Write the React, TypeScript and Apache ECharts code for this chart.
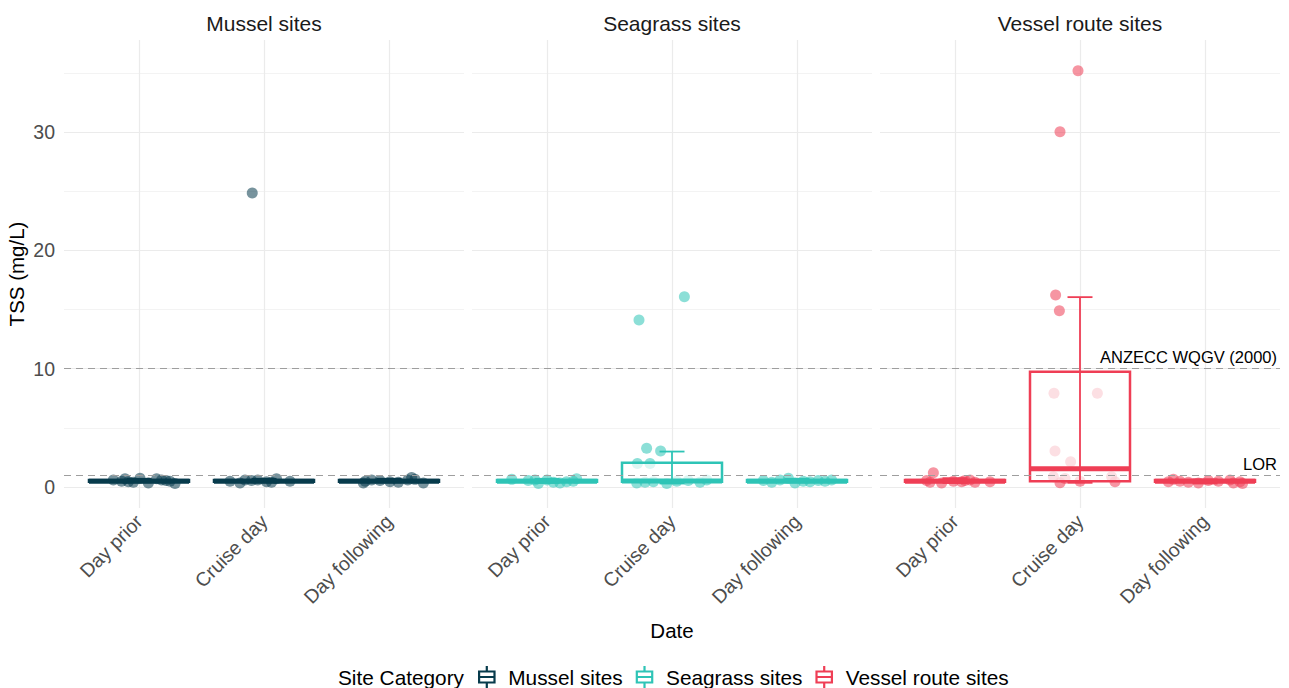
import { useEffect, useRef } from "react";
import * as echarts from "echarts";

const categories = ["Day prior", "Cruise day", "Day following"];
const sites = ["Mussel sites", "Seagrass sites", "Vessel route sites"];
const siteColors = ["#073B4C", "#2EC4B6", "#EF3E55"];
const yTickLabels = [0, 10, 20, 30];
const yMinorTicks = [5, 15, 25, 35];
const yMin = -1.77;
const yMax = 37.78;
const guidelineValues = [10, 1];
const guidelineLabels = ["ANZECC WQGV (2000)", "LOR"];
const legendTitle = "Site Category";
const xTitle = "Date";
const yTitle = "TSS (mg/L)";

// box stats: [category (1-based), lower whisker, Q1, median, Q3, upper whisker]
const musselBoxes = [
  [1, 0.4, 0.45, 0.5, 0.6, 0.7],
  [2, 0.4, 0.45, 0.5, 0.6, 0.7],
  [3, 0.4, 0.45, 0.5, 0.6, 0.7],
];
const seagrassBoxes = [
  [1, 0.35, 0.45, 0.5, 0.6, 0.7],
  [2, 0.3, 0.45, 0.52, 2.05, 3.0],
  [3, 0.4, 0.45, 0.5, 0.6, 0.7],
];
const vesselBoxes = [
  [1, 0.35, 0.45, 0.5, 0.6, 0.75],
  [2, 0.36, 0.5, 1.55, 9.75, 16.05],
  [3, 0.3, 0.45, 0.5, 0.6, 0.65],
];

// jittered samples: [category (1-based), jitter offset, TSS mg/L]
const musselPoints = [
  [1, -0.205, 0.6], [1, -0.139, 0.5], [1, -0.112, 0.7], [1, -0.085, 0.45], [1, -0.045, 0.4], [1, 0.008, 0.75],
  [1, 0.075, 0.35], [1, 0.141, 0.7], [1, 0.181, 0.6], [1, 0.216, 0.55], [1, 0.248, 0.5], [1, 0.288, 0.3],
  [2, -0.272, 0.5], [2, -0.192, 0.35], [2, -0.152, 0.6], [2, -0.1, 0.55], [2, -0.094, 24.85], [2, -0.05, 0.6],
  [2, 0.02, 0.45], [2, 0.06, 0.4], [2, 0.1, 0.7], [2, 0.208, 0.5],
  [3, -0.205, 0.35], [3, -0.19, 0.5], [3, -0.139, 0.6], [3, -0.072, 0.55], [3, 0.008, 0.45], [3, 0.075, 0.4],
  [3, 0.15, 0.6], [3, 0.181, 0.8], [3, 0.208, 0.65], [3, 0.275, 0.35],
];
const seagrassPoints = [
  [1, -0.282, 0.65], [1, -0.15, 0.55], [1, -0.096, 0.6], [1, -0.069, 0.3], [1, 0.0, 0.6], [1, 0.051, 0.4],
  [1, 0.104, 0.35], [1, 0.157, 0.45], [1, 0.21, 0.5], [1, 0.237, 0.7],
  [2, -0.264, 14.11], [2, 0.099, 16.08], [2, -0.203, 3.27], [2, -0.091, 3.04], [2, -0.277, 2.0], [2, -0.176, 2.0],
  [2, -0.282, 0.35], [2, -0.216, 0.4], [2, -0.149, 0.45], [2, -0.042, 0.3], [2, 0.038, 0.5], [2, 0.13, 0.55],
  [2, 0.224, 0.4], [2, 0.278, 0.6],
  [3, -0.269, 0.55], [3, -0.202, 0.4], [3, -0.136, 0.6], [3, -0.069, 0.75], [3, -0.016, 0.35], [3, 0.05, 0.5],
  [3, 0.104, 0.45], [3, 0.17, 0.55], [3, 0.224, 0.5], [3, 0.277, 0.6],
];
const vesselPoints = [
  [1, -0.227, 0.55], [1, -0.2, 0.4], [1, -0.173, 1.21], [1, -0.107, 0.35], [1, -0.013, 0.5], [1, 0.053, 0.45],
  [1, 0.08, 0.55], [1, 0.12, 0.6], [1, 0.16, 0.4], [1, 0.28, 0.45],
  [2, -0.016, 35.18], [2, -0.16, 30.03], [2, -0.195, 16.23], [2, -0.165, 14.9], [2, -0.208, 7.92], [2, 0.139, 7.92],
  [2, -0.2, 3.04], [2, -0.075, 2.14], [2, -0.213, 0.87], [2, -0.16, 0.36], [2, -0.12, 0.73], [2, 0.0, 0.5],
  [2, 0.253, 0.87], [2, 0.28, 0.45],
  [3, -0.293, 0.45], [3, -0.253, 0.65], [3, -0.2, 0.5], [3, -0.133, 0.4], [3, -0.053, 0.35], [3, 0.027, 0.55],
  [3, 0.107, 0.5], [3, 0.2, 0.6], [3, 0.227, 0.35], [3, 0.28, 0.45], [3, 0.3, 0.3],
];

const boxSets = [musselBoxes, seagrassBoxes, vesselBoxes];
const pointSets = [musselPoints, seagrassPoints, vesselPoints];

const FONT = "'Liberation Sans', Arial, Helvetica, sans-serif";
const GRID_LEFT = 64;
const GRID_STEP = 408;
const GRID_W = 400;
const GRID_TOP = 40;
const GRID_H = 468;

const legendIcon =
  "path://M7,0H9V4H7Z M0,4H16V16H0Z M2,6V9H14V6Z M2,11V14H14V11Z M7,16H9V20H7Z";

function makeRenderItem(color: string) {
  return (_params: any, api: any) => {
    const x = api.value(0);
    const lo = api.value(1);
    const q1 = api.value(2);
    const med = api.value(3);
    const q3 = api.value(4);
    const hi = api.value(5);
    const halfBox = 0.4;
    const halfCap = 0.1;
    const pTL = api.coord([x - halfBox, q3]);
    const pBR = api.coord([x + halfBox, q1]);
    const pMed = api.coord([x, med]);
    const pLo = api.coord([x, lo]);
    const pHi = api.coord([x, hi]);
    const capL = api.coord([x - halfCap, hi]);
    const capR = api.coord([x + halfCap, hi]);
    return {
      type: "group",
      children: [
        {
          type: "rect",
          shape: { x: pTL[0], y: pTL[1], width: pBR[0] - pTL[0], height: pBR[1] - pTL[1] },
          style: { fill: "rgba(255,255,255,0.7)", stroke: color, lineWidth: 2.5 },
        },
        {
          type: "line",
          shape: { x1: pTL[0], y1: pMed[1], x2: pBR[0], y2: pMed[1] },
          style: { stroke: color, lineWidth: 5 },
        },
        {
          type: "line",
          shape: { x1: pLo[0], y1: pLo[1], x2: pHi[0], y2: pHi[1] },
          style: { stroke: color, lineWidth: 1.8 },
        },
        {
          type: "line",
          shape: { x1: capL[0], y1: pHi[1], x2: capR[0], y2: pHi[1] },
          style: { stroke: color, lineWidth: 1.8 },
        },
        {
          type: "line",
          shape: { x1: capL[0], y1: pLo[1], x2: capR[0], y2: pLo[1] },
          style: { stroke: color, lineWidth: 1.8 },
        },
      ],
    };
  };
}

function buildOption(): any {
  const grids = sites.map((_, i) => ({
    left: GRID_LEFT + GRID_STEP * i,
    top: GRID_TOP,
    width: GRID_W,
    height: GRID_H,
    containLabel: false,
    outerBoundsMode: "none",
  }));

  const xAxes = sites.map((_, i) => ({
    gridIndex: i,
    type: "value",
    min: 0.4,
    max: 3.6,
    axisLine: { show: false },
    axisTick: { show: false, customValues: [1, 2, 3] },
    axisLabel: {
      customValues: [1, 2, 3],
      formatter: (v: number) => categories[Math.round(v) - 1] ?? "",
      rotate: 45,
      fontSize: 19.5,
      color: "#4d4d4d",
      fontFamily: FONT,
      margin: 10,
    },
    splitLine: { show: true, lineStyle: { color: "#ebebeb", width: 1.2 } },
    name: i === 1 ? xTitle : "",
    nameLocation: "middle",
    nameGap: 112,
    nameTextStyle: { fontSize: 20.5, color: "#000", fontFamily: FONT },
  }));

  const yAxes: any[] = [];
  sites.forEach((_, i) => {
    yAxes.push({
      gridIndex: i,
      type: "value",
      min: yMin,
      max: yMax,
      position: "left",
      axisLine: { show: false },
      axisTick: { show: false, customValues: yTickLabels },
      axisLabel: {
        show: i === 0,
        customValues: yTickLabels,
        fontSize: 19.5,
        color: "#4d4d4d",
        fontFamily: FONT,
        margin: 9,
      },
      splitLine: { show: true, lineStyle: { color: "#ebebeb", width: 1.2 } },
      name: i === 0 ? yTitle : "",
      nameLocation: "middle",
      nameRotate: 90,
      nameGap: 37,
      nameTextStyle: { fontSize: 20.5, color: "#000", fontFamily: FONT },
    });
    yAxes.push({
      gridIndex: i,
      type: "value",
      min: yMin,
      max: yMax,
      position: "left",
      axisLine: { show: false },
      axisTick: { show: false, customValues: yMinorTicks },
      axisLabel: { show: false, customValues: yMinorTicks },
      splitLine: { show: true, lineStyle: { color: "#f0f0f0", width: 0.8 } },
    });
  });

  const series: any[] = [];
  sites.forEach((name, i) => {
    series.push({
      name,
      type: "scatter",
      xAxisIndex: i,
      yAxisIndex: i * 2,
      symbol: "circle",
      symbolSize: 11,
      itemStyle: { color: siteColors[i], opacity: 0.55 },
      data: pointSets[i].map(([c, dx, v]) => [c + dx, v]),
      z: 2,
      silent: true,
    });
    series.push({
      name,
      type: "custom",
      xAxisIndex: i,
      yAxisIndex: i * 2,
      renderItem: makeRenderItem(siteColors[i]),
      encode: { x: 0, y: [1, 2, 3, 4, 5] },
      data: boxSets[i],
      z: 3,
      silent: true,
      markLine: {
        silent: true,
        symbol: "none",
        animation: false,
        lineStyle: { type: [7, 5], color: "#9e9e9e", width: 1.2 },
        label: { show: false },
        data: guidelineValues.map((v, k) => ({
          yAxis: v,
          label:
            i === 2
              ? {
                  show: true,
                  position: "insideEndTop",
                  formatter: guidelineLabels[k],
                  color: "#000",
                  fontSize: 16.5,
                  fontFamily: FONT,
                  distance: 3,
                }
              : { show: false },
        })),
      },
    });
  });

  const graphic: any[] = sites.map((name, i) => ({
    type: "text",
    x: GRID_LEFT + GRID_STEP * i + GRID_W / 2,
    y: 23.5,
    style: {
      text: name,
      fontSize: 21,
      fontFamily: FONT,
      fill: "#1a1a1a",
      align: "center",
      verticalAlign: "middle",
    },
    silent: true,
  }));
  graphic.push({
    type: "text",
    x: 464,
    y: 677,
    style: {
      text: legendTitle,
      fontSize: 20.8,
      fontFamily: FONT,
      fill: "#000",
      align: "right",
      verticalAlign: "middle",
    },
    silent: true,
  });

  return {
    animation: false,
    backgroundColor: "#ffffff",
    textStyle: { fontFamily: FONT },
    grid: grids,
    xAxis: xAxes,
    yAxis: yAxes,
    legend: {
      left: 478,
      top: 666,
      padding: 0,
      orient: "horizontal",
      itemWidth: 33,
      itemHeight: 22,
      itemGap: 13,
      selectedMode: false,
      textStyle: { fontSize: 20.8, color: "#000", fontFamily: FONT },
      data: sites.map((s, i) => ({
        name: s,
        icon: legendIcon,
        itemStyle: { color: siteColors[i], borderWidth: 0, opacity: 1 },
      })),
    },
    graphic,
    series,
  };
}

export default function App() {
  const ref = useRef<HTMLDivElement | null>(null);
  useEffect(() => {
    if (!ref.current) return;
    const chart = echarts.init(ref.current, undefined, { renderer: "svg" });
    chart.setOption(buildOption());
    return () => {
      chart.dispose();
    };
  }, []);
  return (
    <div
      ref={ref}
      style={{ position: "absolute", left: 0, top: 0, width: 1289, height: 688, background: "#fff" }}
    />
  );
}
